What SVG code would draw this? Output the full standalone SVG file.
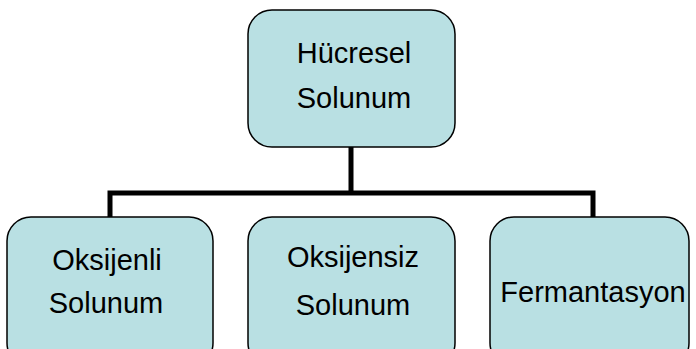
<svg xmlns="http://www.w3.org/2000/svg" width="696" height="349" viewBox="0 0 696 349">
<style>
.box{fill:#b9e0e3;stroke:#000;stroke-width:1.5}
.t{font-family:"Liberation Sans",Arial,sans-serif;font-size:29px;fill:#000;text-anchor:middle}
.c{fill:none;stroke:#000;stroke-width:5}
</style>
<rect width="696" height="349" fill="#fff"/>
<g id="connectors">
<path class="c" d="M351 147 V193 M110 217 V193 H593 V217"/>
</g>
<g id="n0"><rect class="box" x="248" y="10" width="207" height="137" rx="24"/>
<text class="t" x="354" y="63">Hücresel</text><text class="t" x="354" y="108">Solunum</text></g>
<g id="n1"><rect class="box" x="7" y="217" width="206" height="150" rx="24"/>
<text class="t" x="107" y="270">Oksijenli</text><text class="t" x="106" y="313">Solunum</text></g>
<g id="n2"><rect class="box" x="248" y="217" width="207" height="150" rx="24"/>
<text class="t" x="353" y="267">Oksijensiz</text><text class="t" x="353" y="315">Solunum</text></g>
<g id="n3"><rect class="box" x="490" y="217" width="199" height="150" rx="24"/>
<text class="t" x="593" y="302">Fermantasyon</text></g>
</svg>
